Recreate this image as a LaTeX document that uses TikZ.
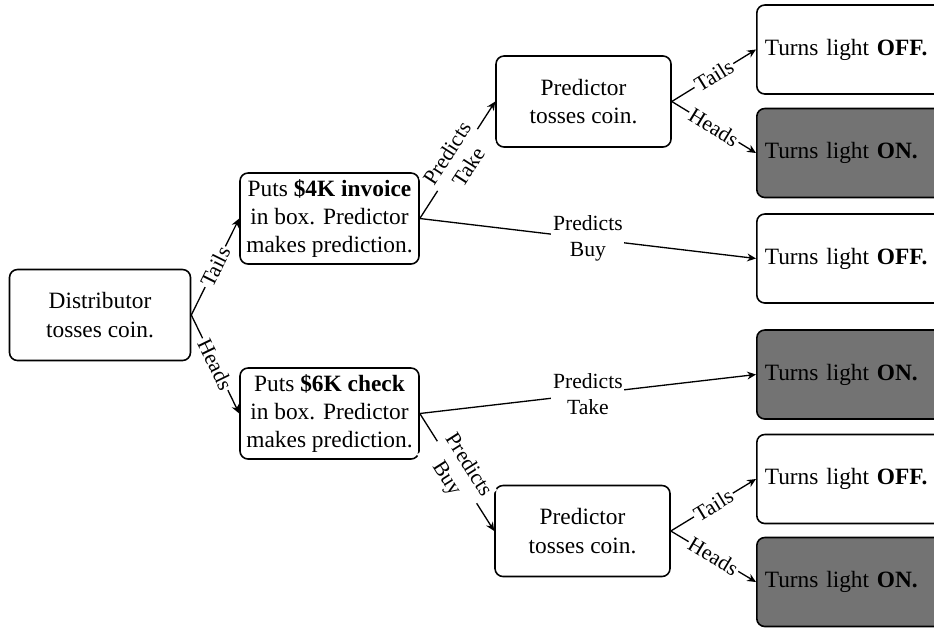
\documentclass[tikz,border=0pt]{standalone}
\usepackage{fontspec}
\setmainfont{Liberation Serif}
\usetikzlibrary{arrows.meta}

\begin{document}
\begin{tikzpicture}
        [box/.style={draw, rounded corners=0.16cm, line width=0.9pt, align=center, minimum height=1.82cm, inner sep=0.05cm, font=\fontsize{13.3}{16}\selectfont},
         leaf/.style={box, anchor=west, minimum height=1.78cm, text width=3.7cm, align=left, inner xsep=0.16cm},
         lit/.style={leaf, fill=black!55},
         arr/.style={-{Stealth[length=5pt,width=4.5pt]}, line width=0.75pt},
         lbl/.style={fill=white, inner sep=1pt, align=center, font=\fontsize{12.3}{14.5}\selectfont}]

        \useasboundingbox (0,0) rectangle (18.68,-12.58);
        \clip (0,0) rectangle (18.68,-12.58);

        \node[box, minimum width=3.62cm] (dist) at (2.0, -6.3) {Distributor\\tosses coin.};
        \node[box, minimum width=3.58cm] (inv) at (6.59, -4.37) {Puts \textbf{\$4K invoice}\\in box. Predictor\\makes prediction.};
        \node[box, minimum width=3.58cm] (chk) at (6.59, -8.27) {Puts \textbf{\$6K check}\\in box. Predictor\\makes prediction.};
        \node[box, minimum width=3.5cm] (predA) at (11.67, -2.03) {Predictor\\tosses coin.};
        \node[box, minimum width=3.5cm] (predB) at (11.65, -10.62) {Predictor\\tosses coin.};

        \node[leaf] (offA) at (15.12, -0.99) {Turns light \textbf{OFF.}};
        \node[lit] (onA) at (15.12, -3.06) {Turns light \textbf{ON.}};
        \node[leaf] (offB) at (15.12, -5.17) {Turns light \textbf{OFF.}};
        \node[lit] (onC) at (15.12, -7.49) {Turns light \textbf{ON.}};
        \node[leaf] (offD) at (15.12, -9.58) {Turns light \textbf{OFF.}};
        \node[lit] (onD) at (15.12, -11.64) {Turns light \textbf{ON.}};

        \draw[arr] (dist.east) -- node[lbl, sloped] {Tails} (inv.west);
        \draw[arr] (dist.east) -- node[lbl, sloped] {Heads} (chk.west);
        \draw[arr] (inv.east) -- node[lbl, sloped] {Predicts\\Take} (predA.west);
        \draw[arr] (inv.east) -- node[lbl] {Predicts\\Buy} (offB.west);
        \draw[arr] (chk.east) -- node[lbl] {Predicts\\Take} (onC.west);
        \draw[arr] (chk.east) -- node[lbl, sloped] {Predicts\\Buy} (predB.west);
        \draw[arr] (predA.east) -- node[lbl, sloped] {Tails} (offA.west);
        \draw[arr] (predA.east) -- node[lbl, sloped] {Heads} (onA.west);
        \draw[arr] (predB.east) -- node[lbl, sloped] {Tails} (offD.west);
        \draw[arr] (predB.east) -- node[lbl, sloped] {Heads} (onD.west);

      \end{tikzpicture}
\end{document}
